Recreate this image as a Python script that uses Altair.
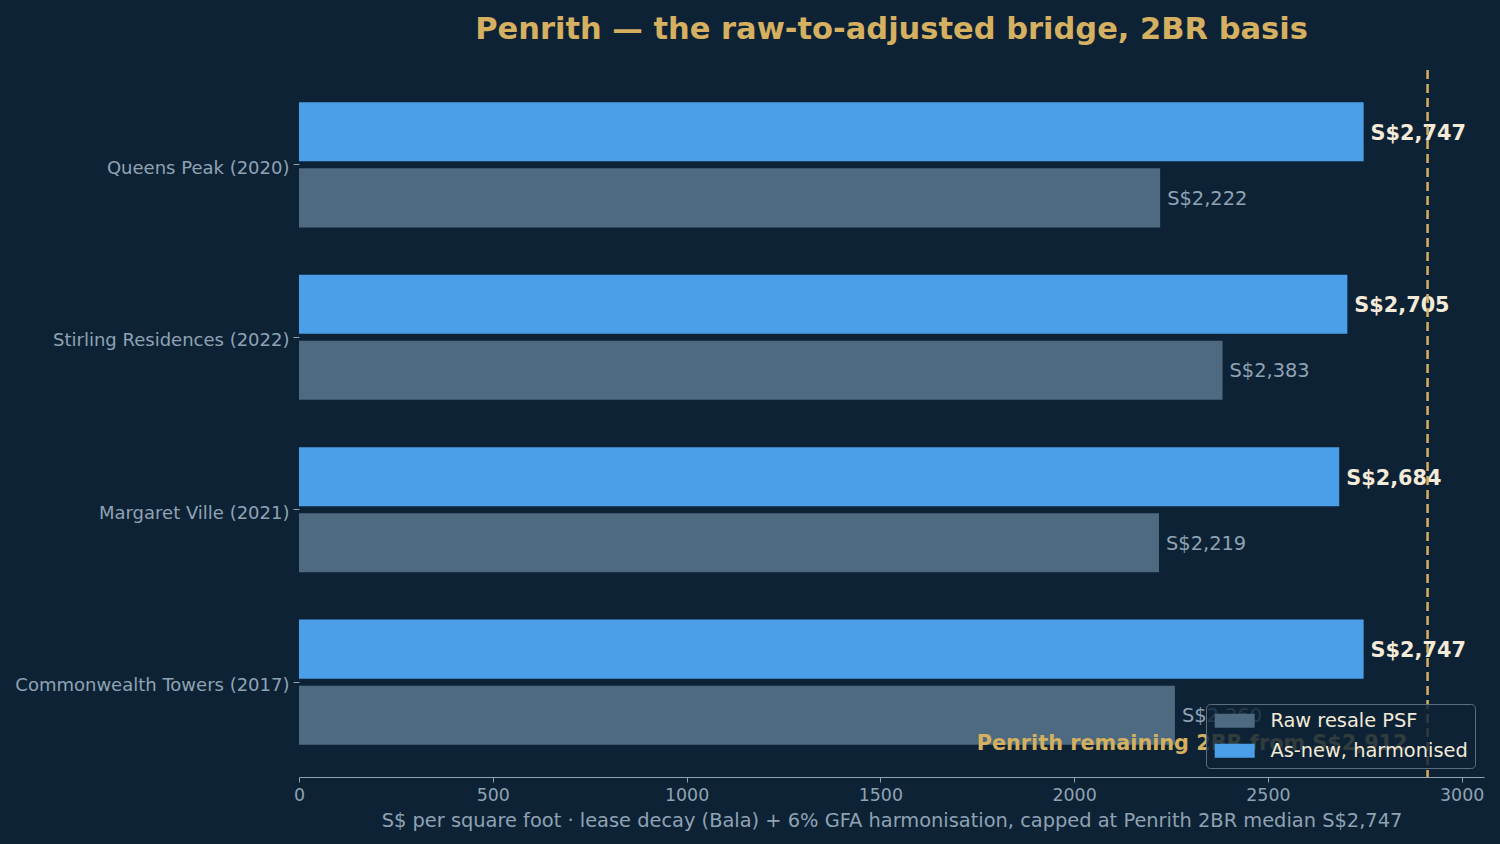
import altair as alt
import pandas as pd

projects = ["Queens Peak (2020)", "Stirling Residences (2022)", "Margaret Ville (2021)", "Commonwealth Towers (2017)"]
raw_psf = [2222, 2383, 2219, 2260]
adjusted_psf = [2747, 2705, 2684, 2747]
series_names = ["Raw resale PSF", "As-new, harmonised"]
penrith_floor = 2912
x_ticks = [0, 500, 1000, 1500, 2000, 2500, 3000]
x_max = 3057.6

BG = "#0e2236"
BLUE = "#4a9fe8"
SLATE = "#4d6a80"
GOLD = "#d4b060"
GRAY = "#8fa3b3"
CREAM = "#f3ead8"
FONT = "DejaVu Sans"

rows = []
for p, r, a in zip(projects, raw_psf, adjusted_psf):
    rows.append({"project": p, "series": series_names[0], "psf": r, "label": f"S${r:,}"})
    rows.append({"project": p, "series": series_names[1], "psf": a, "label": f"S${a:,}"})
df = pd.DataFrame(rows)

y_enc = alt.Y("project:N", sort=projects, title=None,
              scale=alt.Scale(paddingInner=0, paddingOuter=0.05),
              axis=alt.Axis(labelFontSize=18, labelColor=GRAY, labelFont=FONT, labelLimit=400,
                            tickColor=GRAY, tickSize=6, domain=False, labelPadding=4,
                            labelBaseline="middle", labelOffset=4))
yoff_enc = alt.YOffset("series:N", sort=[series_names[1], series_names[0]],
                       scale=alt.Scale(paddingInner=0.106, paddingOuter=0.358))
x_enc = alt.X("psf:Q", title="S$ per square foot · lease decay (Bala) + 6% GFA harmonisation, capped at Penrith 2BR median S$2,747",
              scale=alt.Scale(domain=[0, x_max], nice=False, zero=True),
              axis=alt.Axis(values=x_ticks, labelFontSize=17.4, labelColor=GRAY, labelFont=FONT,
                            tickColor=GRAY, tickSize=5, domainColor=GRAY, grid=False,
                            labelFlush=False, labelOverlap=False,
                            titleFontSize=19.4, titleColor=GRAY, titleFont=FONT,
                            titleFontWeight="normal", titlePadding=8, labelPadding=4,
                            format="d"))

base = alt.Chart(df)

bars = base.mark_bar().encode(
    x=x_enc, y=y_enc, yOffset=yoff_enc,
    color=alt.Color("series:N", sort=series_names,
                    scale=alt.Scale(domain=series_names, range=[SLATE, BLUE]),
                    legend=alt.Legend(title=None, orient="bottom-right", offset=9,
                                      labelFontSize=19.4, labelColor=CREAM, labelFont=FONT,
                                      symbolType="M-2.5,-0.875L2.5,-0.875L2.5,0.875L-2.5,0.875Z",
                                      symbolSize=256, symbolStrokeWidth=0, symbolOpacity=1,
                                      symbolOffset=12, labelOffset=26,
                                      fillColor="rgba(14,34,54,0.82)", strokeColor="#5d6e80",
                                      cornerRadius=4, padding=7, rowPadding=9,
                                      labelLimit=400))
)

adj_text = base.transform_filter(alt.datum.series == series_names[1]).mark_text(
    align="left", baseline="middle", dx=7, dy=2, fontSize=20.8, fontWeight="bold", color=CREAM, font=FONT
).encode(x="psf:Q", y=alt.Y("project:N", sort=projects), yOffset=yoff_enc, text="label:N")

raw_text = base.transform_filter(alt.datum.series == series_names[0]).mark_text(
    align="left", baseline="middle", dx=7, dy=1, fontSize=19.4, color=GRAY, font=FONT
).encode(x="psf:Q", y=alt.Y("project:N", sort=projects), yOffset=yoff_enc, text="label:N")

rule = alt.Chart(pd.DataFrame({"v": [penrith_floor]})).mark_rule(
    color=GOLD, strokeWidth=2.5, strokeDash=[9, 5]
).encode(x="v:Q")

note_df = pd.DataFrame({"v": [penrith_floor], "project": [projects[-1]], "series": [series_names[0]],
                        "txt": [f"Penrith remaining 2BR from S${penrith_floor:,}"]})
note = alt.Chart(note_df).mark_text(
    align="right", baseline="middle", dx=-20, dy=29, fontSize=20.8, fontWeight="bold", color=GOLD, font=FONT
).encode(x="v:Q", y=alt.Y("project:N", sort=projects), yOffset=yoff_enc, text="txt:N")

chart = alt.layer(bars, raw_text, adj_text, rule, note).properties(
    width=1185, height=707,
    background=BG,
    padding={"left": 299, "top": 70, "right": 16, "bottom": 67},
    autosize=alt.AutoSizeParams(type="none"),
    title=alt.TitleParams("Penrith — the raw-to-adjusted bridge, 2BR basis", fontSize=30.5,
                          fontWeight="bold", color=GOLD, font=FONT, anchor="middle", offset=23),
).configure_view(stroke=None)

chart.save("out.html", embed_options={"renderer": "svg", "actions": False})
